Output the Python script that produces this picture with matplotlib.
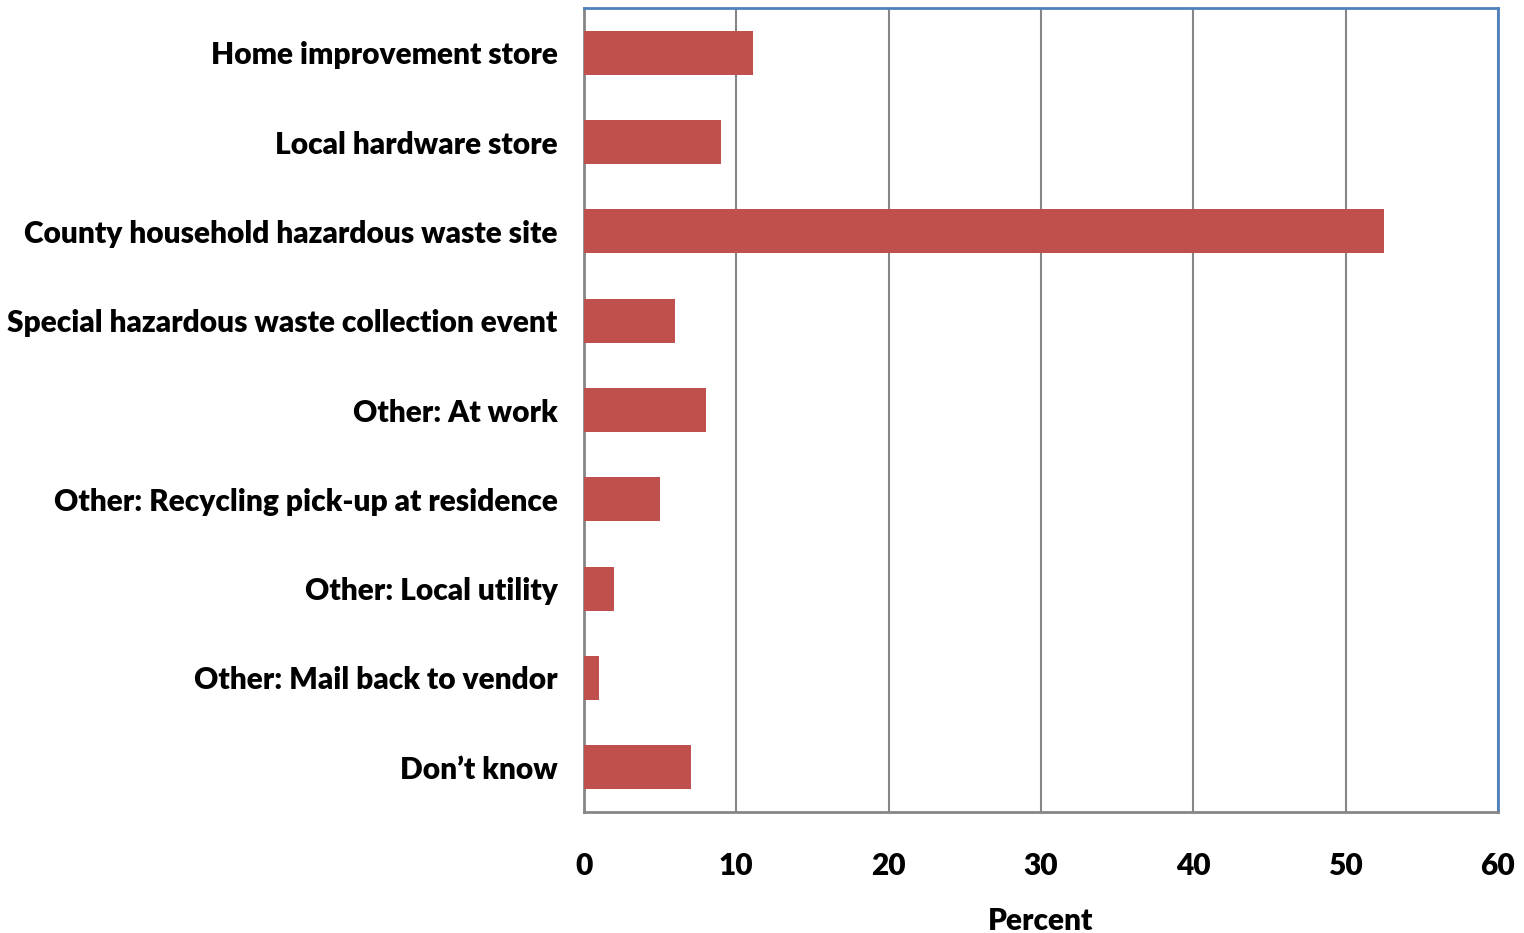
import matplotlib
matplotlib.use("Agg")
import matplotlib.pyplot as plt
import numpy as np

plt.rcParams["font.family"] = ["Lato", "DejaVu Sans"]
plt.rcParams["font.weight"] = "heavy"

# ── Data ─────────────────────────────────────────────────────────────────────
categories = [
    "Home improvement store",
    "Local hardware store",
    "County household hazardous waste site",
    "Special hazardous waste collection event",
    "Other: At work",
    "Other: Recycling pick-up at residence",
    "Other: Local utility",
    "Other: Mail back to vendor",
    "Don\u2019t know",
]
percent = [11.1, 9.0, 52.5, 6.0, 8.0, 5.0, 2.0, 1.0, 7.0]
xticks = [0, 10, 20, 30, 40, 50, 60]

FS = 21.5
WT = "heavy"

# ── Figure ───────────────────────────────────────────────────────────────────
fig = plt.figure(figsize=(15.24, 9.33), dpi=100)
ax = fig.add_axes([0.3832, 0.1297, 0.5997, 0.8617])

y = np.arange(len(categories))
ax.barh(y, percent, height=0.49, color="#C0504D", zorder=3)

ax.set_ylim(len(categories) - 0.5, -0.5)
ax.set_xlim(0, 60)
ax.set_xticks(xticks)
ax.set_xticklabels([str(t) for t in xticks], fontsize=FS, fontweight=WT)
ax.set_yticks(y)
ax.set_yticklabels(categories, fontsize=FS, fontweight=WT)
ax.tick_params(axis="both", length=0)
ax.tick_params(axis="x", pad=29)
ax.tick_params(axis="y", pad=19)

ax.grid(True, axis="x", color="#868686", linewidth=1.5, zorder=0)
ax.set_axisbelow(True)

for side in ["left", "bottom"]:
    ax.spines[side].set_color("#868686")
    ax.spines[side].set_linewidth(2)
for side in ["top", "right"]:
    ax.spines[side].set_color("#4F81BD")
    ax.spines[side].set_linewidth(2)

ax.set_xlabel("Percent", fontsize=FS, fontweight=WT, labelpad=19)

fig.savefig("out.png", dpi=100)
